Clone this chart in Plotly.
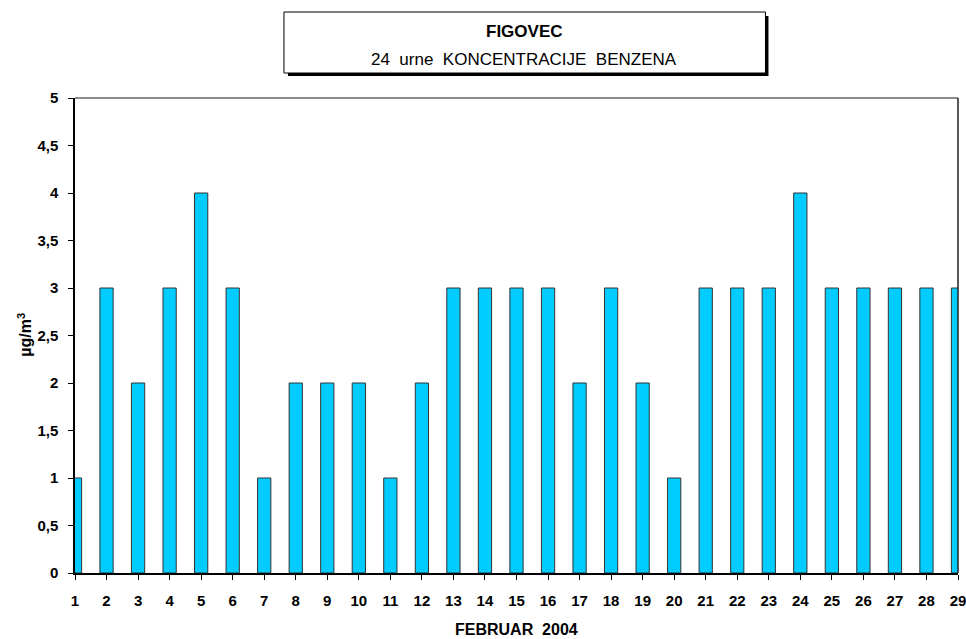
import plotly.graph_objects as go

# dnevi v februarju 2004 in 24-urne koncentracije benzena (µg/m3)
dnevi = list(range(1, 30))
benzen = [1, 3, 2, 3, 4, 3, 1, 2, 2, 2, 1, 2, 3, 3, 3, 3, 2, 3, 2, 1,
          3, 3, 3, 4, 3, 3, 3, 3, 3]
y_ticks = [0, 0.5, 1, 1.5, 2, 2.5, 3, 3.5, 4, 4.5, 5]

# brskalnik sliko vodoravno malce stisne, zato je postavitev malo širša
SX = 0.99
W, H = 976, 639
L, R, T, B = 75, 10, 98, 66
pw, ph = W - L - R, H - T - B

FONT = 'Liberation Sans, Arial, sans-serif'


def px_x(px):
    return (px / SX - L) / pw


def px_y(py):
    return (H - B - py) / ph


fig = go.Figure()
fig.add_trace(go.Bar(
    x=dnevi, y=benzen, width=0.42,
    marker=dict(color='#00CCFF', line=dict(color='#333333', width=1)),
    showlegend=False,
))

fig.update_layout(
    width=W, height=H,
    margin=dict(l=L, r=R, t=T, b=B),
    paper_bgcolor='white', plot_bgcolor='white',
    separators=',.',
    font=dict(family=FONT, color='black'),
    xaxis=dict(
        range=[1, 29], tickmode='array', tickvals=dnevi,
        ticks='outside', ticklen=5, tickcolor='black', ticklabelstandoff=8,
        showline=True, linecolor='black', linewidth=1.5,
        showgrid=False, zeroline=False,
        tickfont=dict(size=15, family=FONT, color='black', weight='bold'),
    ),
    yaxis=dict(
        range=[0, 5], tickmode='array', tickvals=y_ticks,
        ticks='outside', ticklen=5, tickcolor='black', ticklabelstandoff=7,
        showline=True, linecolor='black', linewidth=1.5,
        showgrid=False, zeroline=False,
        tickfont=dict(size=15, family=FONT, color='black', weight='bold'),
    ),
)

# naslova osi
fig.add_annotation(text='<b>FEBRUAR  2004</b>', xref='paper', yref='paper',
                   x=0.5, y=px_y(629), showarrow=False, yanchor='middle',
                   font=dict(size=16, family=FONT, color='black'))
fig.add_annotation(text='<b>µg/m<sup>3</sup></b>', xref='paper', yref='paper',
                   x=px_x(24), y=px_y(335), showarrow=False, textangle=-90,
                   xanchor='center', yanchor='middle',
                   font=dict(size=16, family=FONT, color='black'))

# zgornji (siv) in desni rob risalnega polja
fig.add_shape(type='line', xref='paper', yref='paper', x0=0, x1=1, y0=1, y1=1,
              line=dict(color='#666666', width=1.5))
fig.add_shape(type='line', xref='paper', yref='paper', x0=1, x1=1, y0=0, y1=1,
              line=dict(color='#222222', width=1.5))

# okvir naslova s senco
fig.add_shape(type='rect', xref='paper', yref='paper',
              x0=px_x(287), x1=px_x(767), y0=px_y(76), y1=px_y(16),
              fillcolor='black', line=dict(width=0), layer='below')
fig.add_shape(type='rect', xref='paper', yref='paper',
              x0=px_x(283), x1=px_x(764), y0=px_y(73), y1=px_y(12),
              fillcolor='white', line=dict(color='black', width=1))

fig.add_annotation(text='<b>FIGOVEC</b>', xref='paper', yref='paper',
                   x=px_x(523), y=px_y(31), showarrow=False, yanchor='middle',
                   font=dict(size=17, family=FONT, color='black'))
fig.add_annotation(text='24  urne  KONCENTRACIJE  BENZENA', xref='paper', yref='paper',
                   x=px_x(523), y=px_y(59), showarrow=False, yanchor='middle',
                   font=dict(size=17, family=FONT, color='black'))

fig.write_html("out.html", config={'displayModeBar': False},
               post_script="document.body.style.margin='0px';")
